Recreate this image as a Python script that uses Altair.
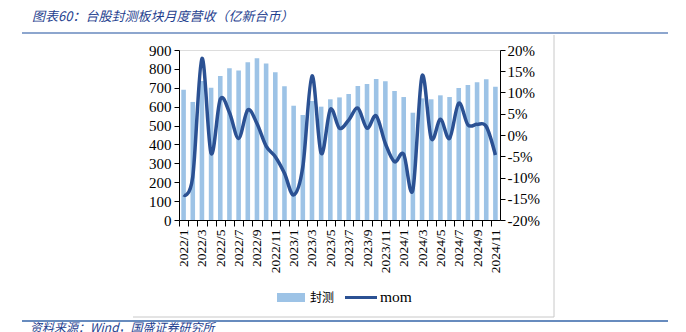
import altair as alt
import pandas as pd

months = ["2022/1", "2022/2", "2022/3", "2022/4", "2022/5", "2022/6", "2022/7", "2022/8",
          "2022/9", "2022/10", "2022/11", "2022/12", "2023/1", "2023/2", "2023/3", "2023/4",
          "2023/5", "2023/6", "2023/7", "2023/8", "2023/9", "2023/10", "2023/11", "2023/12",
          "2024/1", "2024/2", "2024/3", "2024/4", "2024/5", "2024/6", "2024/7", "2024/8",
          "2024/9", "2024/10", "2024/11"]
revenue = [690, 625, 736, 700, 762, 803, 792, 835, 856, 829, 782, 708, 605, 556, 630, 600,
           639, 649, 667, 709, 720, 746, 734, 683, 651, 568, 644, 639, 660, 651, 699, 715,
           729, 745, 706]
mom_pct = [-14.1, -9.8, 18.0, -4.3, 8.4, 5.3, -0.8, 5.9, 2.7, -2.6, -5.1, -9.0, -14.1, -7.5,
           13.9, -4.3, 6.0, 1.6, 3.5, 6.3, 1.6, 4.5, -2.0, -6.3, -4.5, -12.9, 13.9, -0.8, 3.7,
           -0.8, 7.5, 2.4, 2.5, 2.0, -4.7]
left_ticks = [0, 100, 200, 300, 400, 500, 600, 700, 800, 900]
right_ticks = [-0.20, -0.15, -0.10, -0.05, 0.0, 0.05, 0.10, 0.15, 0.20]

title_text = "图表60：台股封测板块月度营收（亿新台币）"
source_text = "资料来源：Wind，国盛证券研究所"
bar_name = "封测"
line_name = "mom"

BAR_COLOR = "#9DC3E6"
LINE_COLOR = "#2B5193"
TEXT_BLUE = "#1F3F8F"

# layout (canvas pixels)
PL, PT = 179, 50
W, H = 321, 170
CW, CH = 686, 332

df = pd.DataFrame({"month": months, "revenue": revenue,
                   "mom": [v / 100 for v in mom_pct]})

step = W / len(months)
serif = "Liberation Serif"
cjk = "Noto Sans CJK SC"

x_enc = alt.X("month:N", sort=months,
              scale=alt.Scale(paddingInner=0.5, paddingOuter=0.25),
              axis=alt.Axis(title="", labelAngle=270, labelFont=serif, labelFontSize=13.5,
                            labelColor="black", labelPadding=3, labelOverlap=False,
                            labelExpr="toNumber(split(datum.value, '/')[1]) % 2 == 1 ? datum.value : ''",
                            tickOffset=-step / 2, labelOffset=step / 2,
                            tickSize=6, tickColor="black", domainColor="black",
                            ticks=True, grid=False))

bars = alt.Chart(df).mark_bar(color=BAR_COLOR).encode(
    x=x_enc,
    y=alt.Y("revenue:Q", scale=alt.Scale(domain=[0, 900], nice=False),
            axis=alt.Axis(title="", values=left_ticks, labelFont=serif, labelFontSize=15,
                          labelColor="black", tickSize=5, tickColor="black",
                          domainColor="black", labelPadding=3, grid=False, orient="left")),
)

line = alt.Chart(df).mark_line(color=LINE_COLOR, strokeWidth=3.5, interpolate="cardinal").encode(
    x=alt.X("month:N", sort=months),
    y=alt.Y("mom:Q", scale=alt.Scale(domain=[-0.2, 0.2], nice=False),
            axis=alt.Axis(title="", values=right_ticks, labelFont=serif, labelFontSize=15,
                          labelColor="black", tickSize=5, tickColor="black",
                          domainColor="black", labelPadding=2, grid=False, orient="right",
                          labelExpr="(datum.value < -0.0001 ? '-' : '') + format(abs(datum.value), '.0%')")),
)

one = pd.DataFrame({"k": [0]})


def px(x):
    return x - PL


def py(y):
    return y - PT


def hrule(x1, x2, y, color, width):
    return alt.Chart(one).mark_rule(color=color, strokeWidth=width).encode(
        x=alt.value(px(x1)), x2=alt.value(px(x2)), y=alt.value(py(y)))


def vrule(x, y1, y2, color, width):
    return alt.Chart(one).mark_rule(color=color, strokeWidth=width).encode(
        x=alt.value(px(x)), y=alt.value(py(y1)), y2=alt.value(py(y2)))


def text(s, x, y, font, size, color, italic=False, baseline="middle"):
    kw = dict(font=font, fontSize=size, color=color, align="left", baseline=baseline)
    if italic:
        kw["fontStyle"] = "italic"
    return alt.Chart(one).mark_text(**kw).encode(
        x=alt.value(px(x)), y=alt.value(py(y)), text=alt.value(s))


deco = [
    text(title_text, 32, 17, cjk, 13, TEXT_BLUE, italic=True),
    hrule(22, 668, 33, "#8DA6CE", 2),
    vrule(554, 35, 317, "#C8C8C8", 1),
    hrule(133, 554, 317, "#C8C8C8", 1),
    hrule(22, 668, 321, "#3565A8", 1.5),
    text(source_text, 30, 323, cjk, 12, TEXT_BLUE, italic=True, baseline="top"),
    alt.Chart(one).mark_rect(color=BAR_COLOR).encode(
        x=alt.value(px(277)), x2=alt.value(px(305)), y=alt.value(py(293)), y2=alt.value(py(302))),
    text(bar_name, 310, 297.5, cjk, 12, "black"),
    hrule(345, 377, 297.5, LINE_COLOR, 3),
    text(line_name, 380, 297, serif, 15.5, "black"),
]

chart = alt.layer(bars, line, *deco).resolve_scale(y="independent").properties(
    width=W, height=H,
    autosize=alt.AutoSizeParams(type="none"),
    padding={"left": PL, "top": PT, "right": CW - PL - W, "bottom": CH - PT - H},
).configure_view(stroke=None).configure(background="white")

chart.save("out.html", embed_options={"renderer": "svg", "actions": False})
